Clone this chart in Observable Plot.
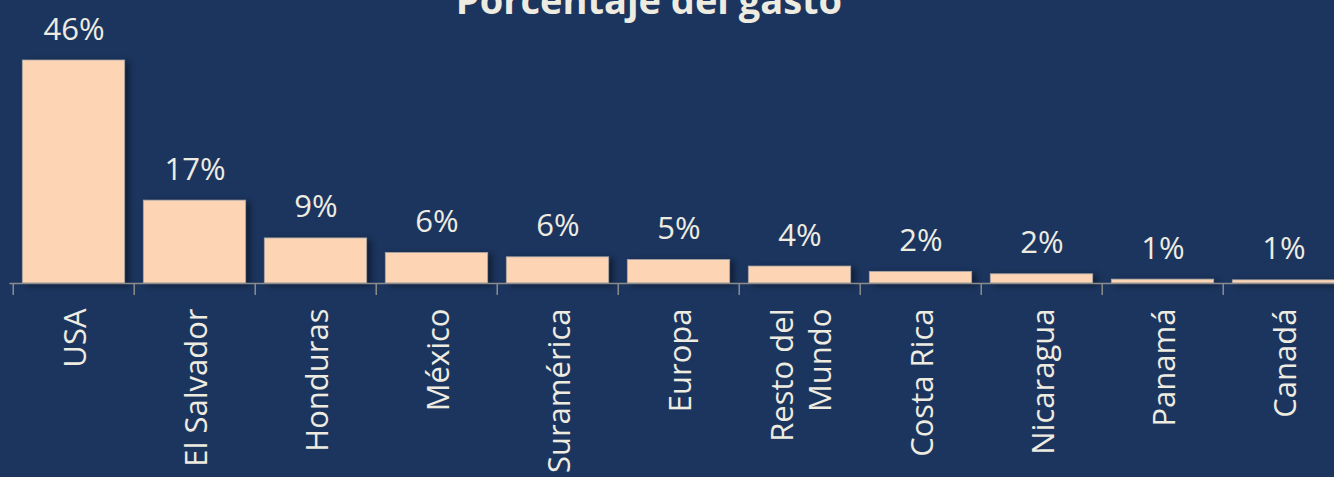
<!DOCTYPE html>
<html>
<head>
<meta charset="utf-8">
<script src="https://cdn.jsdelivr.net/npm/d3@7"></script>
<script src="https://cdn.jsdelivr.net/npm/@observablehq/plot@0.6"></script>
<style>
  html, body { margin: 0; padding: 0; background: #1C355E; overflow: hidden; }
  #chart svg { display: block; }
  #chart g[aria-label="bar"] rect { filter: drop-shadow(4px 2px 3px rgba(0,0,0,0.45)); }
</style>
</head>
<body>
<div id="chart"></div>
<script>
const title = "Porcentaje del gasto";
const categories = ["USA", "El Salvador", "Honduras", "México", "Suramérica", "Europa", "Resto del\nMundo", "Costa Rica", "Nicaragua", "Panamá", "Canadá"];
const values = [46.0, 17.1, 9.3, 6.3, 5.4, 4.85, 3.5, 2.4, 1.9, 0.8, 0.65];
const valueLabels = ["46%", "17%", "9%", "6%", "6%", "5%", "4%", "2%", "2%", "1%", "1%"];

const data = categories.map((c, i) => ({cat: c, value: values[i], label: valueLabels[i]}));

const W = 1334, H = 477;
const xLeft = 9.5, xRight = 1346.5;
const step = (xRight - xLeft) / categories.length;
const textColor = "#EEECE1";
const font = "'Open Sans', sans-serif";

const chart = Plot.plot({
  width: W,
  height: H,
  marginTop: 60,
  marginBottom: 194,
  marginLeft: xLeft,
  marginRight: 0,
  style: {background: "#1C355E", fontFamily: font, overflow: "hidden"},
  x: {domain: categories, range: [xLeft, xRight], padding: 0, axis: null},
  y: {domain: [0, 46], axis: null},
  marks: [
    Plot.barY(data, {x: "cat", y: "value", fill: "#FDD5B4", stroke: "#A6A6A6", strokeWidth: 0.8, insetLeft: 9.3, insetRight: 9.3}),
    Plot.ruleY([0], {stroke: "#8C8C8C", strokeWidth: 1.5}),
    Plot.axisX({ticks: categories, tickSize: 12, tickFormat: () => "", dx: -step / 2, stroke: "#8C8C8C", strokeWidth: 1.5, label: null}),
    Plot.text(data, {x: "cat", y: "value", text: "label", lineAnchor: "bottom", dy: -21, fill: textColor, fontSize: 31}),
    Plot.text(data, {x: "cat", text: "cat", frameAnchor: "bottom", rotate: -90, textAnchor: "end", lineAnchor: "middle", dy: 25, fill: textColor, fontSize: 31, lineHeight: 1.2}),
    Plot.text([title], {frameAnchor: "top-left", dx: 648.5 - xLeft, dy: -47, lineAnchor: "bottom", textAnchor: "middle", text: d => d, fill: textColor, fontSize: 38, fontWeight: "bold"})
  ]
});
document.getElementById("chart").appendChild(chart);
</script>
</body>
</html>
